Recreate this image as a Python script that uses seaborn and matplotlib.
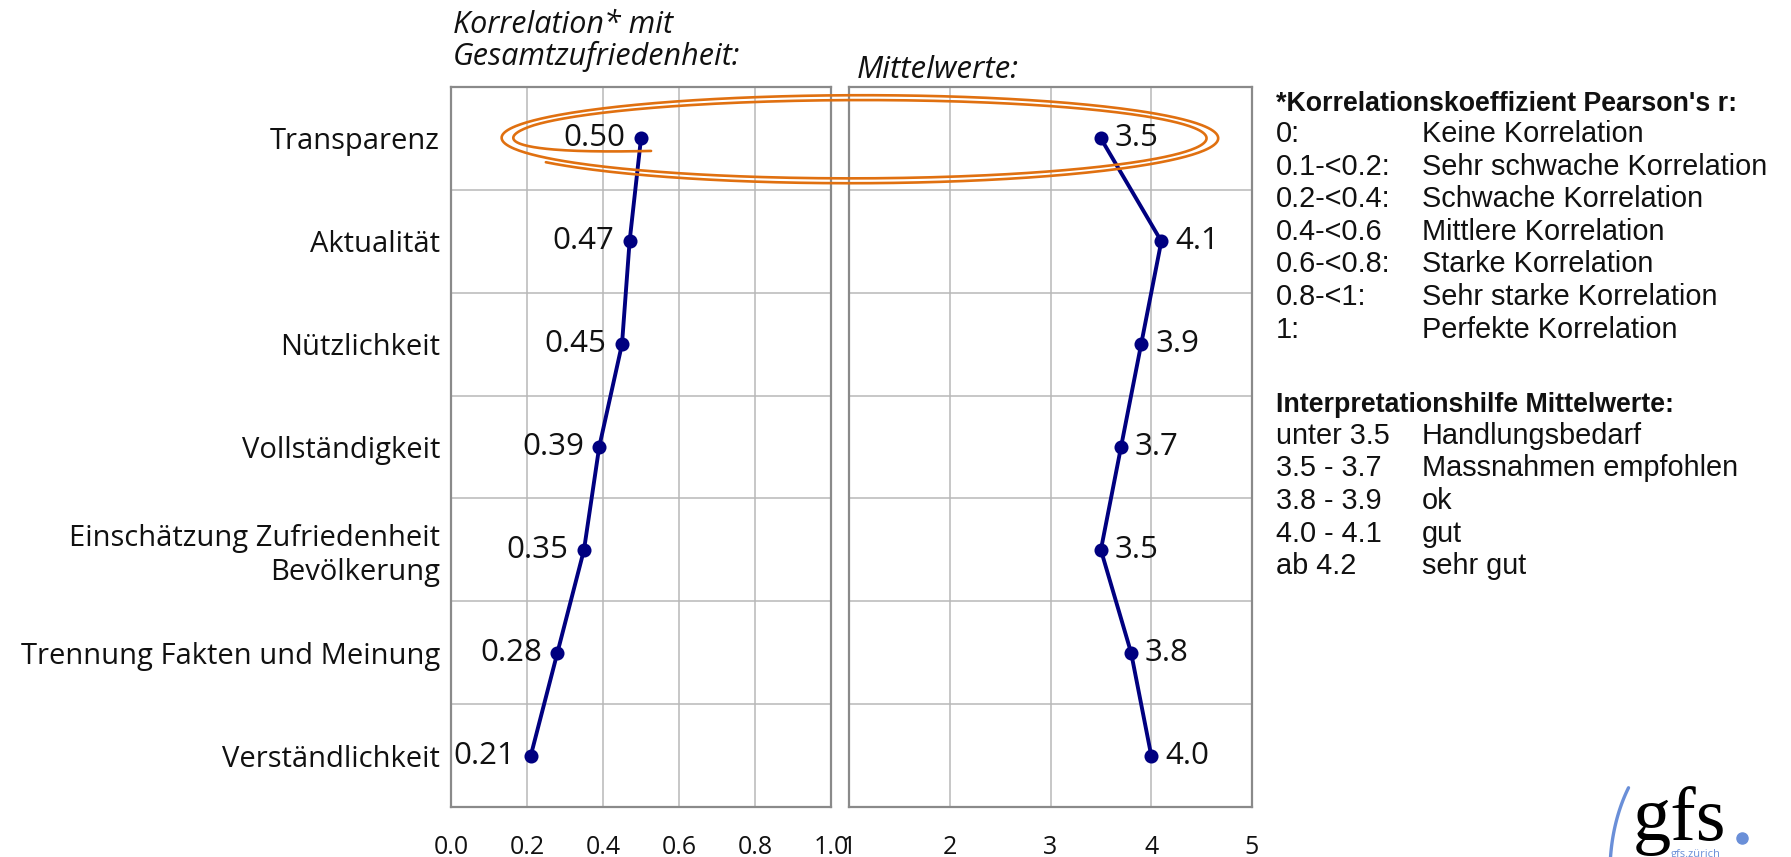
import numpy as np
import pandas as pd
import matplotlib
matplotlib.use("Agg")
import matplotlib.pyplot as plt
import seaborn as sns
from matplotlib.lines import Line2D

# ---------------- data ----------------
categories = ["Transparenz", "Aktualität", "Nützlichkeit", "Vollständigkeit",
              "Einschätzung Zufriedenheit\nBevölkerung",
              "Trennung Fakten und Meinung", "Verständlichkeit"]
korrelation = [0.50, 0.47, 0.45, 0.39, 0.35, 0.28, 0.21]
mittelwerte = [3.5, 4.1, 3.9, 3.7, 3.5, 3.8, 4.0]
korr_ticks = [0.0, 0.2, 0.4, 0.6, 0.8, 1.0]
korr_ticklabels = ["0.0", "0.2", "0.4", "0.6", "0.8", "1.0"]
mw_ticks = [1, 2, 3, 4, 5]
mw_ticklabels = ["1", "2", "3", "4", "5"]

title_korr = ["Korrelation* mit", "Gesamtzufriedenheit:"]
title_mw = "Mittelwerte:"

legend_korr_title = "*Korrelationskoeffizient Pearson's r:"
legend_korr_keys = ["0:", "0.1-<0.2:", "0.2-<0.4:", "0.4-<0.6", "0.6-<0.8:", "0.8-<1:", "1:"]
legend_korr_vals = ["Keine Korrelation", "Sehr schwache Korrelation", "Schwache Korrelation",
                    "Mittlere Korrelation", "Starke Korrelation", "Sehr starke Korrelation",
                    "Perfekte Korrelation"]
legend_mw_title = "Interpretationshilfe Mittelwerte:"
legend_mw_keys = ["unter 3.5", "3.5 - 3.7", "3.8 - 3.9", "4.0 - 4.1", "ab 4.2"]
legend_mw_vals = ["Handlungsbedarf", "Massnahmen empfohlen", "ok", "gut", "sehr gut"]

# ---------------- style ----------------
sns.set_theme(style="white")
plt.rcParams["font.family"] = ["Open Sans", "DejaVu Sans"]

W, H = 1791, 857
fig = plt.figure(figsize=(W / 100, H / 100), dpi=100)
fig.patch.set_facecolor("white")


def fx(px):
    return np.asarray(px) / W


def fy(py):
    return 1 - np.asarray(py) / H


navy = "#000080"
grid_c = "#b8b8b8"
spine_c = "#8a8a8a"
txt_c = "#111111"

ax1 = fig.add_axes([fx(451), fy(807), (831 - 451) / W, (807 - 87) / H])
ax2 = fig.add_axes([fx(849), fy(807), (1252 - 849) / W, (807 - 87) / H])

df = pd.DataFrame({"Kategorie": categories, "Korrelation": korrelation,
                   "Mittelwert": mittelwerte})

for ax, col in [(ax1, "Korrelation"), (ax2, "Mittelwert")]:
    sns.pointplot(data=df, x=col, y="Kategorie", order=categories, orient="h",
                  color=navy, markers="o", markersize=8, linewidth=2.8,
                  errorbar=None, ax=ax)
    ax.set_xlabel("")
    ax.set_ylabel("")
    ax.set_ylim(len(categories) - 0.5, -0.5)
    ax.set_yticks(np.arange(-0.5, len(categories), 1.0), minor=True)
    ax.grid(True, which="minor", axis="y", color=grid_c, lw=1.1)
    ax.grid(True, which="major", axis="x", color=grid_c, lw=1.1)
    ax.grid(False, which="major", axis="y")
    ax.tick_params(which="both", length=0)
    ax.tick_params(axis="x", pad=20, labelsize=18, labelcolor=txt_c)
    for sp in ax.spines.values():
        sp.set_visible(True)
        sp.set_color(spine_c)
        sp.set_linewidth(1.6)
    ax.set_axisbelow(True)

ax1.set_xlim(0, 1)
ax1.set_xticks(korr_ticks)
ax1.set_xticklabels(korr_ticklabels)
ax1.tick_params(axis="y", pad=8, labelsize=21, labelcolor=txt_c)
for lbl in ax1.get_yticklabels():
    lbl.set_horizontalalignment("right")
    lbl.set_multialignment("right")

ax2.set_xlim(1, 5)
ax2.set_xticks(mw_ticks)
ax2.set_xticklabels(mw_ticklabels)
ax2.tick_params(axis="y", labelleft=False)

# value labels
for i, v in enumerate(korrelation):
    ax1.annotate(f"{v:.2f}", xy=(v, i), xytext=(-11, 0), textcoords="offset points",
                 ha="right", va="center", fontsize=22.5, color=txt_c, zorder=5)
for i, v in enumerate(mittelwerte):
    ax2.annotate(f"{v:.1f}", xy=(v, i), xytext=(10, 0), textcoords="offset points",
                 ha="left", va="center", fontsize=22.5, color=txt_c, zorder=5)

# titles
fig.text(fx(453), fy(33), title_korr[0], fontsize=22, style="italic",
         va="baseline", ha="left", color=txt_c)
fig.text(fx(453), fy(65), title_korr[1], fontsize=22, style="italic",
         va="baseline", ha="left", color=txt_c)
fig.text(fx(857), fy(78), title_mw, fontsize=22.5, style="italic",
         va="baseline", ha="left", color=txt_c)

# legend / explanation blocks
lfont = ["Liberation Sans", "DejaVu Sans"]
fs_leg = 20.8
fig.text(fx(1276), fy(104), legend_korr_title, family=lfont, fontsize=19.3,
         fontweight="bold", va="center", ha="left", color=txt_c)
for k, (key, val) in enumerate(zip(legend_korr_keys, legend_korr_vals)):
    y = 134 + 32.6 * k
    fig.text(fx(1276), fy(y), key, family=lfont, fontsize=fs_leg, va="center", color=txt_c)
    fig.text(fx(1422), fy(y), val, family=lfont, fontsize=fs_leg, va="center", color=txt_c)

fig.text(fx(1276), fy(405), legend_mw_title, family=lfont, fontsize=19.3,
         fontweight="bold", va="center", ha="left", color=txt_c)
for k, (key, val) in enumerate(zip(legend_mw_keys, legend_mw_vals)):
    y = 436 + 32.5 * k
    fig.text(fx(1276), fy(y), key, family=lfont, fontsize=fs_leg, va="center", color=txt_c)
    fig.text(fx(1422), fy(y), val, family=lfont, fontsize=fs_leg, va="center", color=txt_c)

# orange hand-drawn highlight loop around the first row
s = np.linspace(0, 1, 800)
theta0 = 2.587
theta = theta0 - s * (4 * np.pi + 0.37)
a = 366 - 24 * s
taper = np.where(s > 0.9, 1 - 0.55 * ((s - 0.9) / 0.1) ** 1.3, 1.0)
b = (46 - 10 * s) * taper
cx, cy = 857, 138
px = cx + a * np.cos(theta)
py = cy + b * np.sin(theta)
fig.add_artist(Line2D(fx(px), fy(py), transform=fig.transFigure,
                      color="#E07010", lw=1.9, zorder=10, solid_capstyle="round"))

# gfs logo (partially cut off at the bottom)
blue = "#6a8fd8"
phi = np.radians(np.linspace(143, 190, 100))
fig.add_artist(Line2D(fx(1702 + 92 * np.cos(phi)), fy(872 - 140 * np.sin(phi)),
                      transform=fig.transFigure, color=blue, lw=2.4))
fig.text(fx(1633), fy(840), "gfs", family=["Liberation Serif", "DejaVu Serif"],
         fontsize=55, va="baseline", ha="left", color="black")
fig.add_artist(Line2D([fx(1742)], [fy(838)], transform=fig.transFigure, marker="o",
                      markersize=8, color=blue, lw=0))
fig.text(fx(1671), fy(849), "gfs.zürich", fontsize=8, va="top", ha="left", color=blue)

fig.savefig("out.png", dpi=100, facecolor="white")
